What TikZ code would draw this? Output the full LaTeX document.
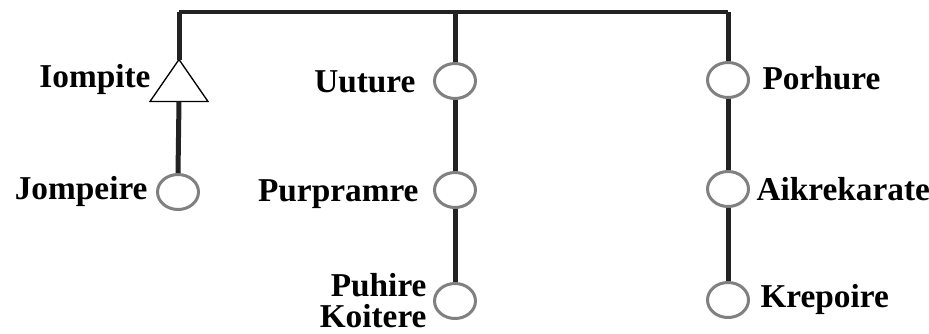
\documentclass[tikz,border=0pt]{standalone}
\usepackage{fontspec}
\setmainfont{Liberation Serif}
\usetikzlibrary{shapes.geometric}

\tikzset{every picture/.style={line width=0.75pt}}
\tikzset{
  stem/.style={draw={rgb, 255:red, 34; green, 34; blue, 34 }, line width=3.75pt},
  leaf/.style={ellipse, draw={rgb, 255:red, 128; green, 128; blue, 128 }, line width=2.25pt, fill=white, minimum width=30.75pt, minimum height=26.25pt, inner sep=0pt},
  tag/.style={font=\fontsize{25}{23}\selectfont\bfseries, inner sep=0pt},
}

\begin{document}
\begin{tikzpicture}[x=0.75pt,y=0.75pt,yscale=-1,xscale=1]
		\useasboundingbox (0,0) rectangle (929,333);
		
		%Triangle
		\node (iompite) at (179,80.5) [minimum width=42.75pt, minimum height=30.75pt, inner sep=0pt] {};
		\draw [line width=1pt] (iompite.south west) -- (iompite.south east) -- (iompite.north) -- cycle ;
		
		%Circles
		\node [leaf] (jompeire) at (178,192) {};
		\node [leaf] (uuture) at (455,81) {};
		\node [leaf] (purpramre) at (455,190) {};
		\node [leaf] (puhire) at (455,301) {};
		\node [leaf] (porhure) at (728,80) {};
		\node [leaf] (aikrekarate) at (728,189) {};
		\node [leaf] (krepoire) at (728,300) {};
		
		%Top bar
		\coordinate (barL) at (179,12);
		\coordinate (barR) at (728,12);
		
		%Straight Lines
		\draw [stem, line width=3pt] (barL) -- (barR) ;
		\draw [stem] (iompite.north) -- (barL) ;
		\draw [stem] (barR) -- (porhure.north) ;
		\draw [stem] (uuture.north) -- (uuture |- barL) ;
		\draw [stem] (iompite.south) -- (jompeire.north) ;
		\draw [stem] (uuture.south) -- (purpramre.north) ;
		\draw [stem] (purpramre.south) -- (puhire.north) ;
		\draw [stem] (porhure.south) -- (aikrekarate.north) ;
		\draw [stem] (aikrekarate.south) -- (krepoire.north) ;
		
		% Text Node
		\node [tag, anchor=base east] (t1) at (151,87) {Iompite};
		% Text Node
		\node [tag, anchor=base east] (t2) at (148,199) {Jompeire};
		% Text Node
		\node [tag, anchor=base east] (t3) at (416,92.5) {Uuture};
		% Text Node
		\node [tag, anchor=base east] (t4) at (419,201) {Purpramre};
		% Text Node
		\node [tag, anchor=north east, align=right] (t5) at (427,273) {Puhire\\Koitere};
		% Text Node
		\node [tag, anchor=base west] (t6) at (762,89) {Porhure};
		% Text Node
		\node [tag, anchor=base west] (t7) at (756,200) {Aikrekarate};
		% Text Node
		\node [tag, anchor=base west] (t8) at (760,307) {Krepoire};
		
\end{tikzpicture}
\end{document}
